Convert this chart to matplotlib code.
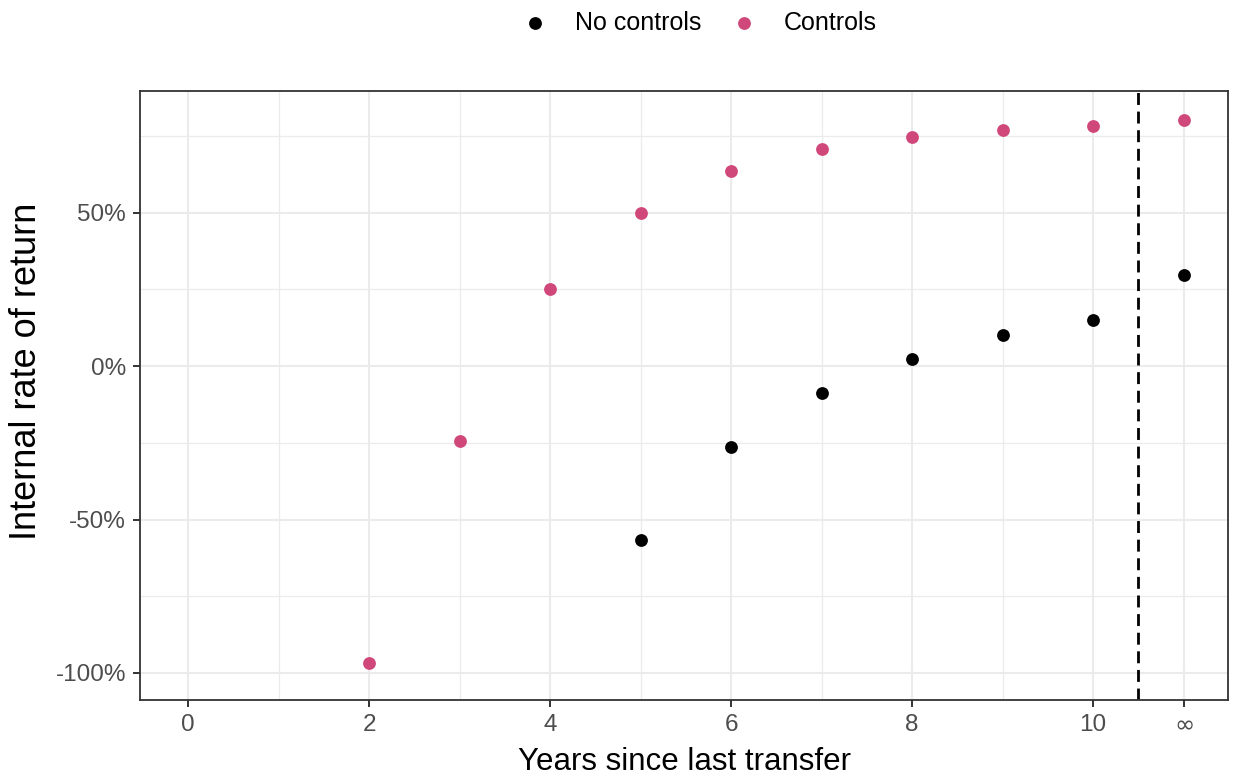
import matplotlib.pyplot as plt
from matplotlib.ticker import FixedLocator, FuncFormatter

plt.rcParams['font.family'] = ['Liberation Sans', 'DejaVu Sans']

# years since last transfer; 11 stands in for infinity
years_ctrl = [2, 3, 4, 5, 6, 7, 8, 9, 10, 11]
irr_ctrl = [-96.7, -24.5, 25.0, 50.0, 63.4, 70.6, 74.5, 76.9, 78.1, 80.0]

years_noctrl = [5, 6, 7, 8, 9, 10, 11]
irr_noctrl = [-56.7, -26.5, -8.8, 2.4, 10.0, 15.0, 29.6]

xtick_vals = [0, 2, 4, 6, 8, 10, 11]
xtick_labels = ["0", "2", "4", "6", "8", "10", r"$\infty$"]
ytick_vals = [-100, -50, 0, 50]

pink = "#D0487A"
grid_col = "#EBEBEB"

fig = plt.figure(figsize=(12.35, 7.77), dpi=100)
ax = fig.add_axes([0.1134, 0.0991, 0.8809, 0.7838])

ax.set_xlim(-0.53, 11.49)
ax.set_ylim(-108.8, 89.6)

# grid like ggplot theme_bw
for v in [0, 2, 4, 6, 8, 10, 11]:
    ax.axvline(v, color=grid_col, lw=1.5, zorder=0)
for v in [1, 3, 5, 7, 9]:
    ax.axvline(v, color=grid_col, lw=0.9, zorder=0)
for v in ytick_vals:
    ax.axhline(v, color=grid_col, lw=1.5, zorder=0)
for v in [-75, -25, 25, 75]:
    ax.axhline(v, color=grid_col, lw=0.9, zorder=0)

ax.axvline(10.5, color="black", lw=2.0, ls=(0, (4.3, 2.4)), zorder=1)

ax.scatter(years_noctrl, irr_noctrl, s=85, color="black", lw=0, zorder=3, label="No controls")
ax.scatter(years_ctrl, irr_ctrl, s=85, color=pink, lw=0, zorder=3, label="Controls")

ax.xaxis.set_major_locator(FixedLocator(xtick_vals))
ax.set_xticklabels(xtick_labels)
ax.yaxis.set_major_locator(FixedLocator(ytick_vals))
ax.yaxis.set_major_formatter(FuncFormatter(lambda v, p: f"{int(v)}%"))

ax.tick_params(axis="both", labelsize=17.5, colors="#333333", length=5, width=1.4,
               labelcolor="#4D4D4D", pad=5)
for s in ax.spines.values():
    s.set_color("#333333")
    s.set_linewidth(1.3)

ax.set_xlabel("Years since last transfer", fontsize=22.5, color="black", labelpad=8)
ax.set_ylabel("Internal rate of return", fontsize=26, color="black")
ax.yaxis.set_label_coords(-0.088, 0.54)

fig.legend(loc="upper center", bbox_to_anchor=(0.5665, 1.015), ncol=2, frameon=False,
           fontsize=18, handlelength=1.0, handletextpad=1.1, columnspacing=1.2,
           markerscale=1.0)

fig.savefig("out.png", dpi=100)
